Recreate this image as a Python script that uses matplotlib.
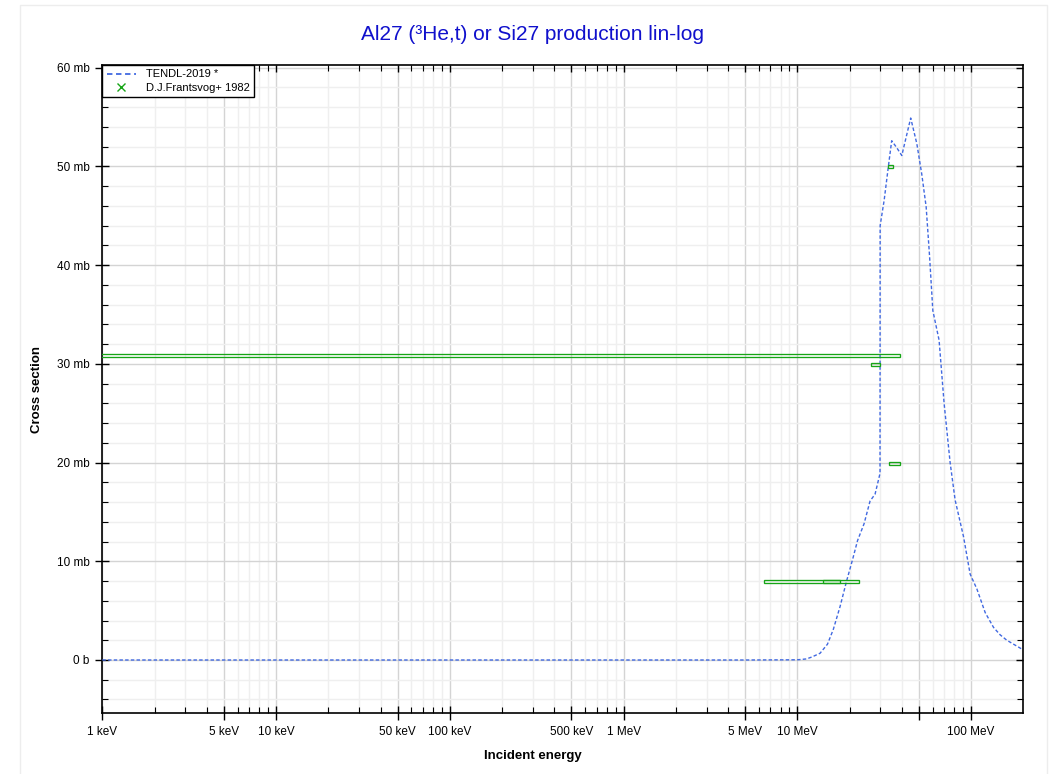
import matplotlib

matplotlib.use("Agg")
import matplotlib.pyplot as plt
from matplotlib.lines import Line2D
from matplotlib.patches import Rectangle
from matplotlib.ticker import FixedLocator, LogLocator, NullFormatter

plt.rcParams["font.family"] = ["Liberation Sans", "DejaVu Sans"]

# TENDL-2019 evaluation: incident energy (MeV), cross section (mb)
tendl_energy = [0.001, 0.01, 0.1, 1.0, 5.0, 10.0, 11.3, 12.1, 13.5, 14.9, 16.1,
                17.6, 19.2, 20.8, 22.2, 24.2, 26.2, 28.0, 29.9, 29.95, 31.6,
                33.4, 34.9, 37.3, 39.9, 44.9, 48.7, 52.0, 55.1, 57.6, 60.2,
                65.4, 69.9, 75.7, 80.9, 90.4, 98.7, 107.9, 120.5, 134.6,
                146.9, 160.5, 198.4]
tendl_xs = [0.0, 0.0, 0.0, 0.0, 0.0, 0.02, 0.11, 0.3, 0.68, 1.6, 3.1,
            5.4, 8.0, 10.2, 12.1, 13.8, 16.1, 16.8, 18.9, 44.0, 46.6,
            50.0, 52.6, 51.9, 51.1, 54.9, 52.3, 49.2, 45.9, 41.0, 35.4,
            32.4, 26.0, 20.0, 16.2, 12.5, 8.7, 7.2, 4.8, 3.3,
            2.55, 2.0, 1.05]

# D.J.Frantsvog+ 1982: energy range (MeV), cross section and error (mb)
exp_e_lo = [0.0005, 26.4, 33.3, 33.9, 6.46, 14.1]
exp_e_hi = [39.2, 29.8, 35.4, 39.2, 17.5, 22.6]
exp_xs = [30.88, 29.9, 49.95, 19.9, 7.91, 7.91]
exp_dxs = [0.15, 0.16, 0.16, 0.17, 0.16, 0.16]

x_ticks = [1e-3, 5e-3, 1e-2, 5e-2, 1e-1, 5e-1, 1.0, 5.0, 10.0, 50.0, 100.0]
x_labels = ["1 keV", "5 keV", "10 keV", "50 keV", "100 keV", "500 keV",
            "1 MeV", "5 MeV", "10 MeV", "", "100 MeV"]
y_ticks = [0, 10, 20, 30, 40, 50, 60]
y_labels = ["0 b", "10 mb", "20 mb", "30 mb", "40 mb", "50 mb", "60 mb"]

LINE_BLUE = "#4169e1"
EXP_GREEN = "#16a516"
XLIM = (1e-3, 198)
YLIM = (-5.37, 60.27)
X_MINOR = LogLocator(base=10, subs=[2, 3, 4, 6, 7, 8, 9], numticks=20)
Y_MINOR = [v for v in range(-4, 61, 2) if v % 10]

fig = plt.figure(figsize=(10.53, 7.74), dpi=100)
fig.patches.append(Rectangle((0.019, -0.01), 0.975, 1.0035, transform=fig.transFigure,
                             fill=False, edgecolor="#ededed", linewidth=1.0))
ax = fig.add_axes([0.0972, 0.0788, 0.8740, 0.8372])

ax.plot(tendl_energy, tendl_xs, color=LINE_BLUE, linewidth=1.0,
        linestyle=(0, (2.5, 1.6)), zorder=3)

for lo, hi, s, ds in zip(exp_e_lo, exp_e_hi, exp_xs, exp_dxs):
    ax.add_patch(Rectangle((lo, s - ds), hi - lo, 2 * ds, fill=False,
                           edgecolor=EXP_GREEN, linewidth=0.95, zorder=4))

ax.set_xscale("log")
ax.set_xlim(*XLIM)
ax.set_ylim(*YLIM)

ax.xaxis.set_major_locator(FixedLocator(x_ticks))
ax.set_xticklabels(x_labels)
ax.xaxis.set_minor_locator(X_MINOR)
ax.xaxis.set_minor_formatter(NullFormatter())
ax.yaxis.set_major_locator(FixedLocator(y_ticks))
ax.set_yticklabels(y_labels)
ax.yaxis.set_minor_locator(FixedLocator(Y_MINOR))

ax.tick_params(which="major", direction="inout", length=10, width=1.0,
               labelsize=8.5, pad=4)
ax.tick_params(which="minor", direction="in", length=4, width=0.8)

ax.grid(True, which="major", color="#d4d4d4", linewidth=1.0)
ax.grid(True, which="minor", color="#efefef", linewidth=1.0)
ax.set_axisbelow(True)
for sp in ax.spines.values():
    sp.set_linewidth(1.2)

# inward ticks on the top and right frame
top = ax.twiny()
top.set_xscale("log")
top.set_xlim(*XLIM)
top.xaxis.set_major_locator(FixedLocator(x_ticks))
top.xaxis.set_minor_locator(X_MINOR)
top.tick_params(which="major", direction="in", length=5, width=1.0, labeltop=False)
top.tick_params(which="minor", direction="in", length=4, width=0.8)
right = ax.twinx()
right.set_ylim(*YLIM)
right.yaxis.set_major_locator(FixedLocator(y_ticks))
right.yaxis.set_minor_locator(FixedLocator(Y_MINOR))
right.tick_params(which="major", direction="in", length=5, width=1.0, labelright=False)
right.tick_params(which="minor", direction="in", length=4, width=0.8)
for a in (top, right):
    a.xaxis.set_minor_formatter(NullFormatter())
    for sp in a.spines.values():
        sp.set_visible(False)

handles = [
    Line2D([], [], color=LINE_BLUE, linestyle=(0, (3, 2)), linewidth=1.3),
    Line2D([], [], color=EXP_GREEN, marker="x", linestyle="none", markersize=6),
]
leg = right.legend(handles, ["TENDL-2019 *", "D.J.Frantsvog+ 1982"], loc="upper left",
                   bbox_to_anchor=(0, 1), borderaxespad=0, fontsize=8,
                   fancybox=False, framealpha=1, edgecolor="black",
                   handlelength=2.6, handletextpad=0.9, borderpad=0.4,
                   labelspacing=0.3)
leg.get_frame().set_linewidth(1.0)

fig.text(0.506, 0.956, "Al27 (\u00b3He,t) or Si27 production lin-log", color="#1010cc",
         fontsize=15, ha="center", va="center")
fig.text(0.506, 0.023, "Incident energy", fontsize=9.5, fontweight="bold",
         ha="center", va="center")
fig.text(0.035, 0.497, "Cross section", fontsize=9.5, fontweight="bold",
         ha="center", va="center", rotation=90)

fig.savefig("out.png", dpi=100)
